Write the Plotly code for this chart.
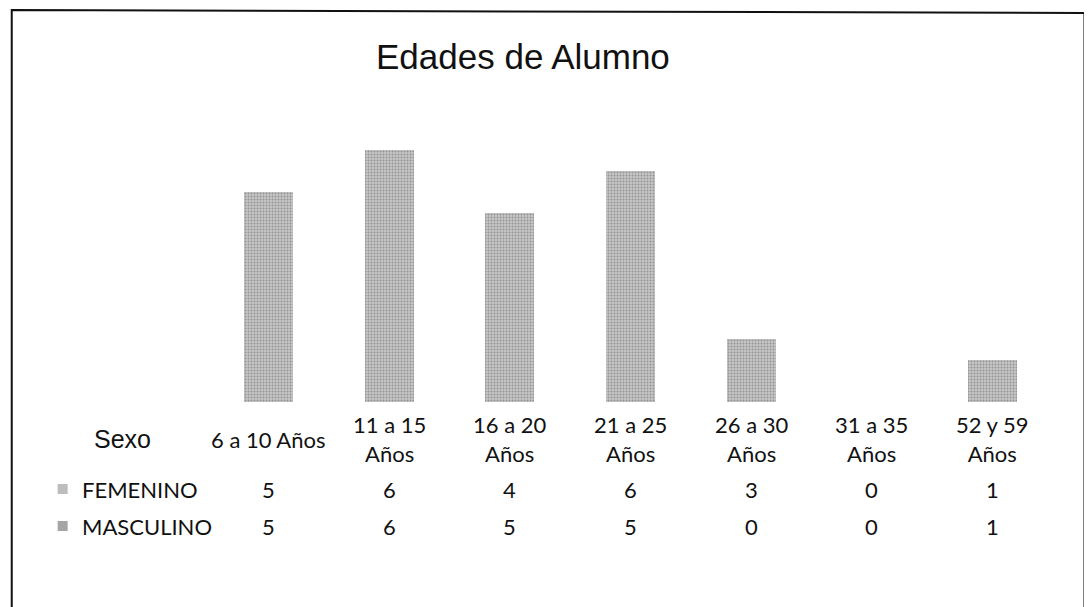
import plotly.graph_objects as go

categories = ["6 a 10 Años", "11 a 15 Años", "16 a 20 Años", "21 a 25 Años",
              "26 a 30 Años", "31 a 35 Años", "52 y 59 Años"]
header_labels = ["6 a 10 Años", "11 a 15<br>Años", "16 a 20<br>Años", "21 a 25<br>Años",
                 "26 a 30<br>Años", "31 a 35<br>Años", "52 y 59<br>Años"]
femenino = [5, 6, 4, 6, 3, 0, 1]
masculino = [5, 6, 5, 5, 0, 0, 1]
series_names = ["FEMENINO", "MASCULINO"]

OFF = 8                      # page body margin in the browser
W, H = 1092, 607
L, R = 207.5 - OFF, 1053.5 - OFF   # plot area in figure pixels (x)
T, B = 129 - OFF, 402 - OFF        # plot area in figure pixels (y)

def py(p):  # screen pixel y -> paper y
    return (B - (p - OFF)) / (B - T)

def px(p):  # screen pixel x -> paper x
    return ((p - OFF) - L) / (R - L)

fig = go.Figure()
pat = dict(shape=".", fgcolor="#5e5e5e", bgcolor="#c6c6c6", size=3, solidity=0.35)
fig.add_trace(go.Bar(x=categories, y=femenino, name=series_names[0],
                     marker=dict(color="#c6c6c6", pattern=pat, line=dict(width=0))))
fig.add_trace(go.Bar(x=categories, y=masculino, name=series_names[1],
                     marker=dict(color="#c6c6c6", pattern=pat, line=dict(width=0))))

cal = "Lato, Carlito, Calibri, sans-serif"
ann = []
# Title
ann.append(dict(text="Edades de Alumno", xref="paper", yref="paper",
                x=px(523), y=py(56), showarrow=False, xanchor="center", yanchor="middle",
                font=dict(family="Liberation Sans, Arial", size=35, color="#111")))
# Table header
ann.append(dict(text="Sexo", xref="paper", yref="paper", x=px(122), y=py(439),
                showarrow=False, xanchor="center", yanchor="middle",
                font=dict(family="Liberation Sans, Arial", size=25, color="#111")))
for c, lab in zip(categories, header_labels):
    ann.append(dict(text=lab, xref="x", yref="paper", x=c, y=py(439),
                    showarrow=False, xanchor="center", yanchor="middle",
                    font=dict(family=cal, size=22, color="#111")))
# Table rows
row_y = [489, 526]
for name, vals, yy in zip(series_names, [femenino, masculino], row_y):
    ann.append(dict(text=name, xref="paper", yref="paper", x=px(79), y=py(yy),
                    showarrow=False, xanchor="left", yanchor="middle",
                    font=dict(family=cal, size=22, color="#111")))
    for c, v in zip(categories, vals):
        ann.append(dict(text=str(v), xref="x", yref="paper", x=c, y=py(yy),
                        showarrow=False, xanchor="center", yanchor="middle",
                        font=dict(family=cal, size=22, color="#111")))

shapes = []
# legend keys
for i, yy in enumerate(row_y):
    shapes.append(dict(type="rect", xref="paper", yref="paper",
                       x0=px(57), x1=px(67), y0=py(yy - 5), y1=py(yy + 5),
                       fillcolor="#bdbdbd" if i == 0 else "#a5a5a5",
                       line=dict(width=0)))
# outer frame
shapes.append(dict(type="path", xref="paper", yref="paper",
                   path=f"M {px(11)},{py(640)} L {px(11)},{py(10)} L {px(1085)},{py(13)} L {px(1085)},{py(640)}",
                   line=dict(color="#111", width=2)))

fig.update_layout(
    width=W, height=H, autosize=False,
    margin=dict(l=L, r=W - R, t=T, b=H - B, pad=0),
    paper_bgcolor="white", plot_bgcolor="white",
    barmode="stack", bargap=0.595, showlegend=False,
    xaxis=dict(showticklabels=False, showgrid=False, zeroline=False, showline=False,
               ticks="", fixedrange=True),
    yaxis=dict(range=[0, 13], showticklabels=False, showgrid=False, zeroline=False,
               showline=False, ticks="", fixedrange=True),
    annotations=ann, shapes=shapes,
)

fig.write_html("out.html")
